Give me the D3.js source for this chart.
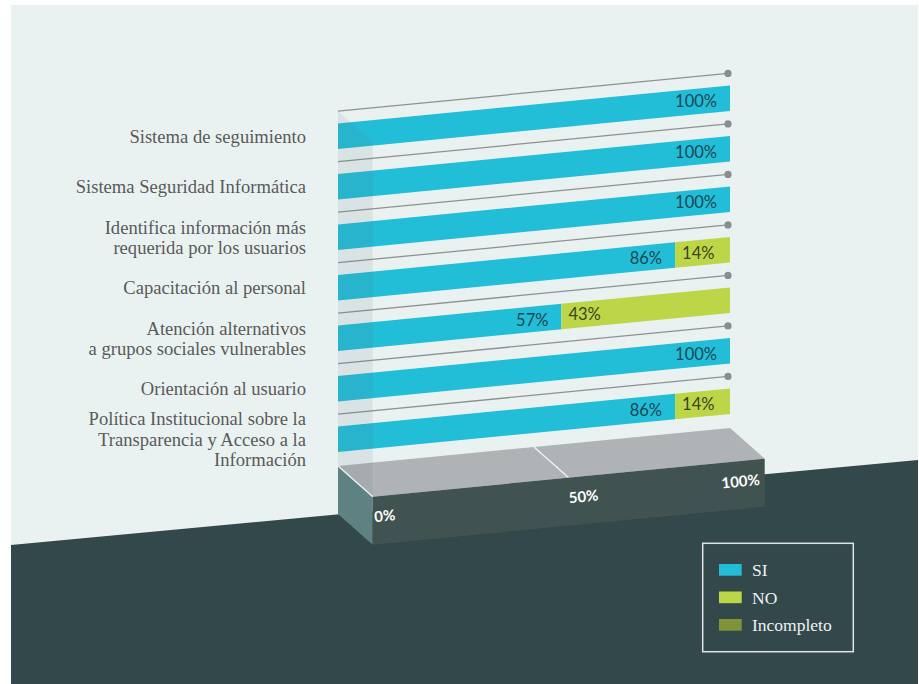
<!DOCTYPE html>
<html>
<head>
<meta charset="utf-8">
<script src="https://cdn.jsdelivr.net/npm/d3@7"></script>
<style>
  html, body { margin: 0; padding: 0; background: #ffffff; }
  svg { display: block; }
</style>
</head>
<body>
<svg id="chart" width="919" height="684"></svg>
<script>
// Categories (line breaks marked with \n), top to bottom
const categories = [
  "Sistema de seguimiento",
  "Sistema Seguridad Informática",
  "Identifica información más\nrequerida por los usuarios",
  "Capacitación al personal",
  "Atención alternativos\na grupos sociales vulnerables",
  "Orientación al usuario",
  "Política Institucional sobre la\nTransparencia y Acceso a la\nInformación"
];
// Percentages per answer
const siValues         = [100, 100, 100, 86, 57, 100, 86];
const noValues         = [0, 0, 0, 14, 43, 0, 14];
const incompletoValues = [0, 0, 0, 0, 0, 0, 0];
const seriesNames  = ["SI", "NO", "Incompleto"];
const seriesColors = ["#22bdd7", "#bdd647", "#80923a"];
const axisTicks    = [0, 50, 100];

const svg = d3.select("#chart");

// Geometry of the slanted plane and the 3D base
const x0 = 338, x1 = 730;
const k = 38 / 392;              // slant of the plane
const depth = [34.7, 30.7];      // offset from back plane to front plane
const baseTop = 466, baseH = 48; // base block (unslanted y at left edge)
const skew = (px, py) => py - k * (px - x0);

const x = d3.scaleLinear().domain([0, 100]).range([x0, x1]);
const y = d3.scaleBand()
  .domain(d3.range(categories.length))
  .range([123.5, 452])
  .paddingInner(0.495)
  .paddingOuter(0);
const bw = y.bandwidth();

// Data table for the stack
const table = categories.map((c, i) => ({
  idx: i, SI: siValues[i], NO: noValues[i], Incompleto: incompletoValues[i]
}));
const stacked = d3.stack().keys(seriesNames)(table);
const color = d3.scaleOrdinal().domain(seriesNames).range(seriesColors);

// Backdrop: light panel with a dark slanted floor
svg.append("rect")
  .attr("x", 11).attr("y", 5).attr("width", 907).attr("height", 679)
  .attr("fill", "#e9f2f1");
svg.append("polygon")
  .attr("points", [[11, 545], [918, 460], [918, 684], [11, 684]].map(p => p.join(",")).join(" "))
  .attr("fill", "#33484a");

// Slanted plane for guides and bars: y' = y - k (x - x0)
const plane = svg.append("g")
  .attr("transform", `matrix(1,${-k},0,1,0,${k * x0})`);

const guideEnd = 728;
const guideOffset = 12.3;
plane.append("g").selectAll("line")
  .data(table).join("line")
  .attr("x1", x0).attr("x2", guideEnd)
  .attr("y1", d => y(d.idx) - guideOffset)
  .attr("y2", d => y(d.idx) - guideOffset)
  .attr("stroke", "#8e9192").attr("stroke-width", 1.3);

svg.append("g").selectAll("circle")
  .data(table).join("circle")
  .attr("cx", guideEnd)
  .attr("cy", d => skew(guideEnd, y(d.idx) - guideOffset))
  .attr("r", 3.6)
  .attr("fill", "#8a8d8f");

plane.append("g").selectAll("g")
  .data(stacked).join("g")
  .attr("fill", s => color(s.key))
  .selectAll("rect")
  .data(s => s).join("rect")
  .attr("x", d => x(d[0]))
  .attr("width", d => x(d[1]) - x(d[0]))
  .attr("y", d => y(d.data.idx))
  .attr("height", bw);

// Base block: top face
const pt = (px, py) => [px, skew(px, py)];
const add = (p, d) => [p[0] + d[0], p[1] + d[1]];
const bl = pt(x(0), baseTop), br = pt(x(100), baseTop);
const fl = add(bl, depth), fr = add(br, depth);
const poly = pts => pts.map(p => p.join(",")).join(" ");

svg.append("polygon").attr("points", poly([bl, br, fr, fl])).attr("fill", "#afb3b5");

// Translucent side panel on the left of the plane
const panelTop = pt(x0, y(0) - guideOffset);
svg.append("polygon")
  .attr("points", poly([panelTop, add(panelTop, depth), fl, bl]))
  .attr("fill", "rgba(90,110,120,0.11)");

// Grid lines across the top face
svg.append("g").selectAll("line")
  .data(axisTicks.filter(t => t < 100)).join("line")
  .attr("x1", t => x(t)).attr("y1", t => skew(x(t), baseTop))
  .attr("x2", t => x(t) + depth[0]).attr("y2", t => skew(x(t), baseTop) + depth[1])
  .attr("stroke", "#f2f5f5").attr("stroke-width", 1.3);

// Left and front faces
svg.append("polygon")
  .attr("points", poly([bl, fl, [fl[0], fl[1] + baseH], [bl[0], bl[1] + baseH]]))
  .attr("fill", "#5d8281");
svg.append("polygon")
  .attr("points", poly([fl, fr, [fr[0], fr[1] + baseH], [fl[0], fl[1] + baseH]]))
  .attr("fill", "#415350");
svg.append("line")
  .attr("x1", bl[0]).attr("y1", bl[1]).attr("x2", fl[0]).attr("y2", fl[1])
  .attr("stroke", "#e8eeee").attr("stroke-width", 1.2);

// Axis labels on the front face
const angle = -Math.atan(k) * 180 / Math.PI;
const frontMid = px => skew(px, baseTop) + depth[1] + baseH / 2 - 1;
svg.append("g").selectAll("text")
  .data(axisTicks).join("text")
  .each(function (t, i) {
    const px = x(t) + depth[0];
    const last = i === axisTicks.length - 1;
    const ax = i === 0 ? px + 1.5 : (last ? px - 5 : px);
    d3.select(this)
      .attr("x", ax).attr("y", frontMid(ax))
      .attr("text-anchor", last ? "end" : "start")
      .attr("transform", `rotate(${angle},${ax},${frontMid(ax)})`);
  })
  .attr("dominant-baseline", "central")
  .attr("font-family", "Lato, sans-serif")
  .attr("font-weight", "bold")
  .attr("font-size", 15)
  .attr("fill", "#ffffff")
  .text(t => t + "%");

// Value labels on the bars
const valueLabels = svg.append("g")
  .attr("font-family", "Lato, sans-serif")
  .attr("font-size", 16.5)
  .attr("dominant-baseline", "central");
table.forEach(d => {
  const cy = y(d.idx) + bw / 2;
  if (d.SI > 0) {
    const ex = x(d.SI) - 13;
    valueLabels.append("text")
      .attr("x", ex).attr("y", skew(ex - 18, cy))
      .attr("text-anchor", "end")
      .attr("fill", "#1b4754")
      .text(d.SI + "%");
  }
  if (d.NO > 0) {
    const sx = x(d.SI) + 7;
    valueLabels.append("text")
      .attr("x", sx).attr("y", skew(sx + 16, cy))
      .attr("text-anchor", "start")
      .attr("fill", "#3a4420")
      .text(d.NO + "%");
  }
});

// Category labels
const lineH = 20.3;
const catLabels = svg.append("g")
  .attr("font-family", "'Liberation Serif', serif")
  .attr("font-size", 18.6)
  .attr("fill", "#5a5a5a")
  .attr("text-anchor", "end");
categories.forEach((c, i) => {
  const lines = c.split("\n");
  const cy = skew(x0, y(i) + bw / 2);
  const t = catLabels.append("text").attr("x", 306);
  lines.forEach((ln, j) => {
    t.append("tspan")
      .attr("x", 306)
      .attr("y", cy - (lines.length - 1) * lineH / 2 + j * lineH)
      .attr("dominant-baseline", "central")
      .text(ln);
  });
});

// Legend
const legend = svg.append("g");
legend.append("rect")
  .attr("x", 702.7).attr("y", 543.3).attr("width", 150.6).attr("height", 108.4)
  .attr("fill", "none").attr("stroke", "#dde5e5").attr("stroke-width", 1.5);
const items = legend.selectAll("g.item")
  .data(seriesNames).join("g")
  .attr("class", "item")
  .attr("transform", (d, i) => `translate(719,${564 + i * 27.5})`);
items.append("rect")
  .attr("width", 22.7).attr("height", 11.7)
  .attr("fill", d => color(d));
items.append("text")
  .attr("x", 33).attr("y", 6)
  .attr("dominant-baseline", "central")
  .attr("font-family", "'Liberation Serif', serif")
  .attr("font-size", 17.5)
  .attr("fill", "#eef2f2")
  .text(d => d);
</script>
</body>
</html>
